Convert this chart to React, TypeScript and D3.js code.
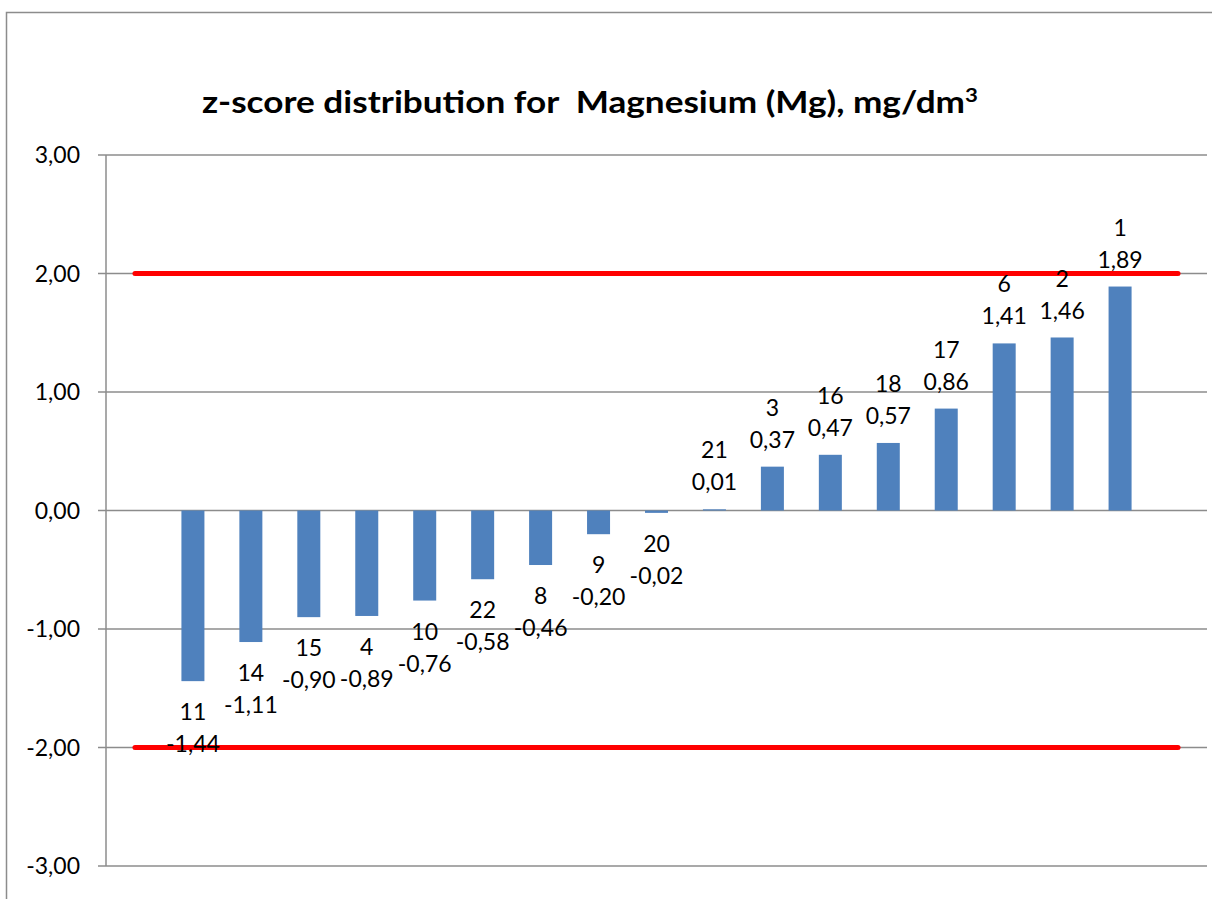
import React, { useRef, useEffect } from 'react';
import * as d3 from 'd3';

const labs = ['11', '14', '15', '4', '10', '22', '8', '9', '20', '21', '3', '16', '18', '17', '6', '2', '1'];
const zScores = [-1.44, -1.11, -0.9, -0.89, -0.76, -0.58, -0.46, -0.2, -0.02, 0.01, 0.37, 0.47, 0.57, 0.86, 1.41, 1.46, 1.89];
const limits = [2, -2];
const yTicks = [3, 2, 1, 0, -1, -2, -3];

// comma decimals, plain hyphen minus
const fmt = d3.formatLocale({
    decimal: ',',
    thousands: ' ',
    grouping: [3],
    currency: ['', ''],
    minus: '-'
}).format('.2f');

const App = () => {
    const svgRef = useRef<SVGSVGElement>(null);

    useEffect(() => {
        const width = 1212;
        const height = 899;
        const left = 106, right = 1207, top = 155, bottom = 866;
        const font = 'Lato, "Liberation Sans", sans-serif';

        const svg = d3.select(svgRef.current)
            .attr('width', width)
            .attr('height', height);
        svg.selectAll('*').remove();

        // chart frame (runs off the page on the right and bottom)
        svg.append('rect')
            .attr('x', 6.5).attr('y', 12.5)
            .attr('width', 1220).attr('height', 900)
            .attr('fill', 'white')
            .attr('stroke', '#8c8c8c')
            .attr('stroke-width', 1.5);

        // one empty slot at each end, like the Excel source
        const slots = ['', ...labs, ' '];
        const x = d3.scaleBand<string>()
            .domain(slots)
            .range([left, right]);

        const y = d3.scaleLinear()
            .domain([-3, 3])
            .range([bottom, top]);

        svg.append('g')
            .selectAll('line')
            .data(yTicks)
            .enter()
            .append('line')
            .attr('x1', left - 8)
            .attr('x2', right)
            .attr('y1', d => y(d))
            .attr('y2', d => y(d))
            .attr('stroke', '#8c8c8c')
            .attr('stroke-width', 1.5);

        svg.append('line')
            .attr('x1', left).attr('x2', left)
            .attr('y1', top).attr('y2', bottom)
            .attr('stroke', '#8c8c8c')
            .attr('stroke-width', 1.5);

        svg.append('g')
            .selectAll('text')
            .data(yTicks)
            .enter()
            .append('text')
            .attr('x', 80)
            .attr('y', d => y(d))
            .attr('dy', '0.35em')
            .attr('text-anchor', 'end')
            .style('font-family', font)
            .style('font-size', '23px')
            .text(d => fmt(d));

        const bw = 23;
        svg.append('g')
            .selectAll('rect')
            .data(zScores)
            .enter()
            .append('rect')
            .attr('x', (d, i) => x(labs[i])! + x.bandwidth() / 2 - bw / 2)
            .attr('width', bw)
            .attr('y', d => y(Math.max(0, d)))
            .attr('height', d => Math.abs(y(d) - y(0)))
            .attr('fill', '#4f81bd');

        limits.forEach(v => {
            svg.append('path')
                .attr('d', d3.line<string>()
                    .x(s => x(s)! + x.bandwidth() / 2)
                    .y(() => y(v))(slots))
                .attr('fill', 'none')
                .attr('stroke', '#ff0000')
                .attr('stroke-width', 5)
                .attr('stroke-linecap', 'round');
        });

        const labels = svg.append('g')
            .selectAll('g')
            .data(zScores)
            .enter()
            .append('g')
            .attr('transform', (d, i) => `translate(${x(labs[i])! + x.bandwidth() / 2},${y(d)})`)
            .style('font-family', font)
            .style('font-size', '23px')
            .attr('text-anchor', 'middle');

        labels.append('text')
            .attr('y', d => (d >= 0 ? -59 : 31))
            .attr('dy', '0.35em')
            .text((d, i) => labs[i]);

        labels.append('text')
            .attr('y', d => (d >= 0 ? -27 : 63))
            .attr('dy', '0.35em')
            .text(d => fmt(d));

        const title = svg.append('text')
            .attr('x', 590)
            .attr('y', 113)
            .attr('text-anchor', 'middle')
            .attr('textLength', 776)
            .attr('lengthAdjust', 'spacingAndGlyphs')
            .style('font-family', font)
            .style('font-size', '30px')
            .style('font-weight', 'bold')
            .style('white-space', 'pre');
        title.append('tspan').text('z-score distribution for  Magnesium (Mg), mg/dm');
        title.append('tspan').text('3')
            .attr('dy', -11)
            .style('font-size', '19px');
    }, []);

    return (
        <div style={{ position: 'absolute', left: 0, top: 0 }}>
            <svg ref={svgRef} style={{ display: 'block' }}></svg>
        </div>
    );
};

export default App;
